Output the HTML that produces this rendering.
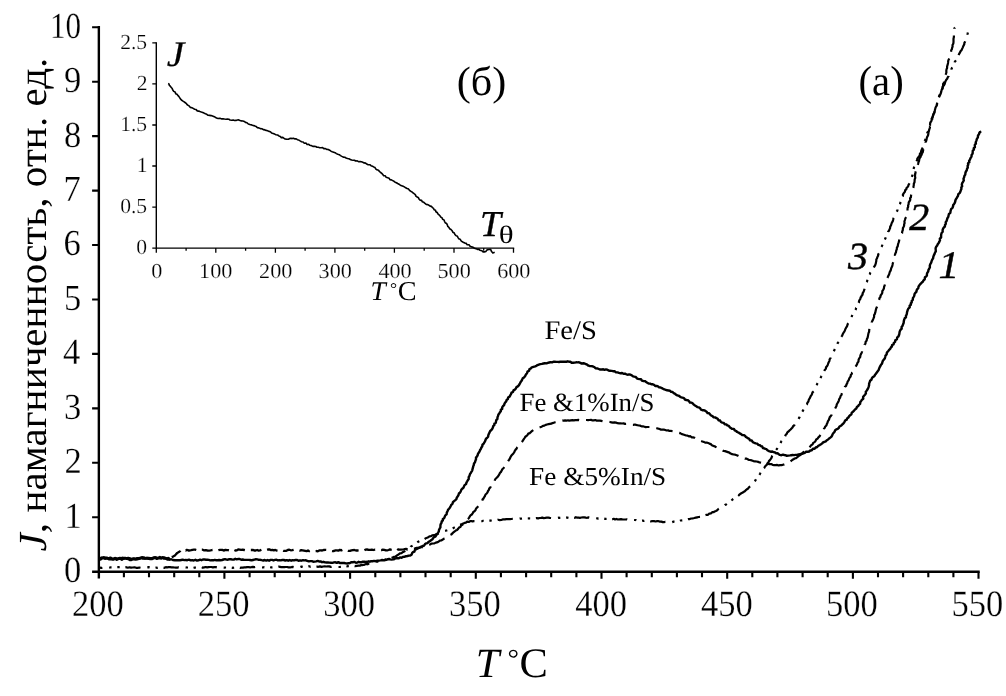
<!DOCTYPE html>
<html><head><meta charset="utf-8"><title>chart</title>
<style>
html,body{margin:0;padding:0;background:#fff;}
body{width:1006px;height:696px;overflow:hidden;font-family:"Liberation Serif",serif;}
svg{display:block;}
</style></head><body>
<svg width="1006" height="696" viewBox="0 0 1006 696">
<rect width="1006" height="696" fill="#fff"/>
<g stroke="#000" fill="none">
<path d="M98.85 26 V578.6" stroke-width="2.4"/>
<path d="M92.1 571.70 H979.7" stroke-width="2.5"/>
<path d="M92.1 517.2 H99 M92.1 462.8 H99 M92.1 408.4 H99 M92.1 353.9 H99 M92.1 299.5 H99 M92.1 245.0 H99 M92.1 190.6 H99 M92.1 136.1 H99 M92.1 81.7 H99 M92.1 27.2 H99" stroke-width="2.1"/>
<path d="M123.9 571.7 V577.2 M149.0 571.7 V577.2 M174.2 571.7 V577.2 M199.3 571.7 V577.2 M224.4 571.7 V578.8 M249.6 571.7 V577.2 M274.7 571.7 V577.2 M299.8 571.7 V577.2 M325.0 571.7 V577.2 M350.1 571.7 V578.8 M375.3 571.7 V577.2 M400.4 571.7 V577.2 M425.5 571.7 V577.2 M450.7 571.7 V577.2 M475.8 571.7 V578.8 M500.9 571.7 V577.2 M526.1 571.7 V577.2 M551.2 571.7 V577.2 M576.4 571.7 V577.2 M601.5 571.7 V578.8 M626.6 571.7 V577.2 M651.8 571.7 V577.2 M676.9 571.7 V577.2 M702.0 571.7 V577.2 M727.2 571.7 V578.8 M752.3 571.7 V577.2 M777.4 571.7 V577.2 M802.6 571.7 V577.2 M827.7 571.7 V577.2 M852.9 571.7 V578.8 M878.0 571.7 V577.2 M903.1 571.7 V577.2 M928.3 571.7 V577.2 M953.4 571.7 V577.2 M978.5 571.7 V578.8" stroke-width="2.1"/>
<path d="M156.3 42.2 V248.8 M155.6 248.1 H514.2" stroke-width="1.4"/>
<path d="M152.3 248.1 H156.3 M152.3 207.1 H156.3 M152.3 166.0 H156.3 M152.3 125.0 H156.3 M152.3 83.9 H156.3 M152.3 42.9 H156.3 M156.3 248.1 V252.8 M186.1 248.1 V250.8 M215.8 248.1 V252.8 M245.6 248.1 V250.8 M275.4 248.1 V252.8 M305.1 248.1 V250.8 M334.9 248.1 V252.8 M364.7 248.1 V250.8 M394.4 248.1 V252.8 M424.2 248.1 V250.8 M454.0 248.1 V252.8 M483.7 248.1 V250.8 M513.5 248.1 V252.8" stroke-width="1.3"/>
</g>
<g stroke="#000" fill="none" stroke-linejoin="round">
<path d="M99.0 557.5 L99.9 557.9 L100.9 558.1 L102.2 558.1 L103.7 557.4 L105.3 557.6 L106.9 558.0 L108.6 558.5 L110.3 557.6 L111.9 558.4 L113.5 558.6 L115.0 558.9 L116.5 558.5 L118.0 558.9 L119.4 558.5 L120.8 558.8 L122.3 557.8 L123.7 558.6 L125.2 558.1 L126.7 558.1 L128.3 557.9 L130.0 558.3 L131.3 558.9 L132.6 559.0 L134.0 558.5 L135.5 558.6 L137.0 558.3 L138.5 558.2 L140.0 558.0 L141.5 558.0 L143.0 558.6 L144.5 558.6 L146.0 558.3 L147.4 558.0 L148.7 558.0 L150.0 558.2 L151.7 558.3 L153.4 558.2 L155.0 558.1 L156.6 557.7 L158.1 558.1 L159.6 558.3 L161.0 558.3 L162.4 557.7 L163.7 558.5 L165.0 558.3 L166.6 558.4 L167.7 559.4 L168.8 559.3 L169.9 559.6 L171.2 559.2 L172.8 560.0 L175.0 560.3 L176.0 560.3 L177.2 560.2 L178.5 560.3 L179.8 560.3 L181.2 560.0 L182.7 559.7 L184.2 560.1 L185.8 560.0 L187.3 560.2 L189.0 559.7 L190.6 560.4 L192.2 560.1 L193.8 560.5 L195.4 559.7 L197.0 560.6 L198.5 560.3 L200.0 559.7 L201.5 560.2 L202.9 559.5 L204.4 559.4 L205.9 559.7 L207.3 559.6 L208.8 559.9 L210.3 560.4 L211.8 560.3 L213.3 560.3 L214.7 559.9 L216.2 560.2 L217.7 560.2 L219.1 560.0 L220.6 560.2 L222.1 560.0 L223.5 559.5 L225.0 559.1 L226.5 559.6 L227.9 559.7 L229.4 559.1 L230.9 559.3 L232.4 559.6 L233.8 559.6 L235.3 558.8 L236.8 559.3 L238.3 558.9 L239.7 559.0 L241.2 559.8 L242.7 559.5 L244.1 559.9 L245.6 559.9 L247.1 559.9 L248.5 559.9 L250.0 560.0 L251.5 560.4 L252.9 560.0 L254.4 559.6 L255.9 559.3 L257.4 559.4 L258.8 559.9 L260.3 559.8 L261.8 560.2 L263.2 560.5 L264.7 560.0 L266.2 560.6 L267.6 560.0 L269.1 560.7 L270.6 559.9 L272.1 559.9 L273.5 560.5 L275.0 559.9 L276.5 559.7 L277.9 560.4 L279.4 560.1 L280.9 560.4 L282.4 559.9 L283.8 560.0 L285.3 560.5 L286.8 560.1 L288.2 560.7 L289.7 560.0 L291.2 560.7 L292.7 560.1 L294.1 560.4 L295.6 559.9 L297.1 560.0 L298.5 560.8 L300.0 560.3 L301.5 560.7 L303.0 560.2 L304.4 560.4 L305.9 560.3 L307.3 560.9 L308.8 561.4 L310.3 561.1 L311.8 561.1 L313.2 561.7 L314.7 561.6 L316.2 561.4 L317.7 560.9 L319.1 561.5 L320.6 561.4 L322.0 562.2 L323.5 561.8 L325.0 562.4 L326.5 562.5 L327.9 562.4 L329.4 562.6 L330.9 562.7 L332.4 562.9 L333.9 562.4 L335.4 562.3 L336.9 562.9 L338.4 562.1 L339.9 563.0 L341.4 563.0 L342.8 563.0 L344.3 563.0 L345.7 563.4 L347.2 563.5 L348.6 563.2 L350.0 563.0 L351.5 562.1 L352.9 562.2 L354.4 561.9 L355.9 562.7 L357.4 562.6 L358.7 561.8 L360.2 562.3 L361.7 562.2 L363.0 561.6 L364.5 561.8 L365.9 562.0 L367.2 561.8 L368.6 561.3 L369.9 561.7 L371.2 561.1 L372.5 561.2 L374.1 560.9 L375.8 561.2 L377.4 560.7 L379.0 560.6 L380.6 560.4 L382.1 560.0 L383.7 560.4 L385.1 560.0 L386.5 559.8 L387.9 559.2 L389.1 559.0 L390.2 559.4 L391.3 559.6 L393.6 559.4 L394.8 558.7 L395.8 558.3 L397.6 558.2 L398.8 558.3 L400.0 557.4 L401.6 557.7 L403.0 556.9 L404.5 556.8 L406.0 556.2 L407.5 556.0 L408.8 555.6 L410.2 555.6 L411.6 554.7 L412.1 553.1 L413.0 552.2 L414.4 551.6 L414.9 550.1 L416.2 549.3 L417.4 548.7 L418.5 547.8 L419.8 547.3 L421.2 546.7 L422.5 546.0 L424.0 545.7 L424.9 544.3 L426.0 543.4 L427.6 543.1 L428.6 541.8 L430.0 541.2 L431.1 540.2 L432.4 539.3 L433.2 538.1 L434.1 537.0 L435.4 536.6 L436.3 535.1 L437.3 533.9 L438.1 532.7 L438.8 531.5 L439.0 530.0 L439.6 528.7 L440.4 527.4 L440.4 525.9 L440.6 524.3 L441.6 522.6 L441.7 521.4 L442.8 520.5 L442.8 519.0 L444.2 518.2 L444.7 516.8 L445.3 515.4 L446.6 514.4 L446.8 512.6 L447.5 511.2 L448.0 509.9 L449.0 508.8 L449.9 507.6 L450.6 506.3 L451.3 504.8 L452.5 503.8 L452.9 502.2 L454.1 501.1 L455.3 500.1 L456.4 499.1 L456.8 497.7 L457.7 496.3 L458.5 495.0 L458.9 493.5 L460.1 492.5 L460.8 491.2 L461.3 489.8 L462.2 488.7 L463.5 487.7 L464.0 486.3 L464.7 485.0 L466.1 484.1 L466.4 482.7 L467.1 481.5 L467.8 480.2 L468.7 479.0 L468.7 477.2 L469.5 475.8 L470.0 474.0 L470.8 473.0 L471.4 471.8 L472.2 470.6 L472.5 469.2 L472.9 467.9 L473.2 466.4 L473.8 465.0 L474.0 463.5 L475.0 462.2 L475.4 460.7 L476.0 459.3 L476.0 457.6 L477.0 456.4 L477.7 455.1 L478.0 453.7 L478.9 452.6 L479.6 451.3 L480.1 450.0 L480.9 448.8 L481.4 447.5 L482.3 446.3 L482.4 444.7 L483.6 443.8 L484.3 442.5 L485.0 441.3 L485.5 440.0 L486.0 438.7 L487.2 437.8 L488.1 436.8 L488.3 435.2 L488.9 433.8 L489.6 432.4 L490.2 431.0 L491.4 430.0 L492.3 428.8 L492.9 427.5 L493.2 426.1 L494.3 425.1 L494.4 423.6 L495.8 422.8 L496.0 421.4 L496.3 420.1 L497.4 418.9 L497.5 417.3 L498.1 415.9 L498.4 414.5 L499.3 413.4 L500.0 412.2 L500.8 411.2 L500.8 409.7 L502.2 408.9 L502.2 407.4 L503.0 406.2 L504.1 405.1 L504.5 403.7 L505.2 402.5 L506.2 401.4 L506.6 400.0 L507.9 399.1 L508.1 397.6 L509.4 396.8 L510.2 395.5 L510.9 394.2 L511.5 392.7 L513.0 392.0 L513.5 390.4 L514.9 389.6 L515.9 388.4 L516.5 387.1 L517.8 386.4 L519.0 385.1 L519.8 383.7 L520.5 382.2 L521.4 381.0 L522.2 379.7 L522.7 378.3 L524.0 377.5 L525.2 376.0 L525.9 374.5 L527.0 373.2 L527.5 371.6 L529.0 370.8 L529.5 369.1 L530.8 368.5 L531.8 367.3 L533.4 366.8 L535.2 366.3 L536.3 365.8 L537.5 365.1 L538.8 364.6 L540.3 364.1 L541.9 363.9 L543.4 363.5 L544.9 363.2 L546.5 363.4 L547.8 362.9 L549.2 362.5 L550.6 362.1 L552.1 362.4 L553.4 361.7 L554.8 361.7 L556.2 361.9 L557.6 361.9 L559.0 362.0 L560.4 361.6 L561.9 361.7 L563.3 361.7 L564.7 361.6 L566.2 361.8 L567.6 361.3 L569.0 361.7 L570.3 361.7 L571.7 362.8 L573.2 362.7 L574.7 362.6 L576.1 362.3 L577.6 362.4 L579.0 362.3 L580.4 362.9 L581.7 363.6 L583.2 363.3 L584.6 363.5 L585.9 364.1 L587.2 364.7 L588.5 365.7 L589.9 366.0 L591.2 366.1 L592.4 366.3 L593.5 366.7 L594.6 367.3 L595.8 368.4 L597.7 368.5 L599.8 369.5 L600.9 369.5 L602.1 369.5 L603.3 369.3 L604.5 369.8 L605.9 369.4 L607.3 369.7 L608.6 370.5 L610.0 370.8 L611.6 370.9 L613.0 371.2 L614.6 371.3 L616.0 372.4 L617.5 372.4 L619.0 372.9 L620.5 373.2 L622.1 373.0 L623.5 373.7 L625.0 373.6 L626.3 374.3 L627.6 374.7 L629.2 374.4 L630.6 374.7 L631.8 375.4 L633.0 376.3 L634.4 376.7 L635.8 377.0 L636.8 378.3 L638.1 378.8 L639.5 379.1 L641.0 379.3 L642.0 380.7 L643.4 381.0 L644.9 381.1 L646.1 381.9 L647.3 382.7 L648.6 383.5 L650.1 383.6 L651.3 384.2 L652.8 384.3 L654.1 384.8 L655.2 386.0 L656.7 386.0 L658.0 386.4 L659.1 387.4 L660.6 387.5 L661.9 388.1 L663.1 388.8 L664.4 389.4 L665.8 389.8 L667.1 390.3 L668.5 390.5 L670.0 390.7 L671.1 391.9 L672.6 392.0 L673.7 393.1 L675.0 393.8 L676.1 394.7 L677.3 395.4 L678.8 395.7 L679.9 396.6 L681.1 397.3 L682.5 397.7 L684.0 398.1 L684.9 399.5 L686.3 400.0 L687.9 400.2 L689.0 401.1 L689.9 402.5 L691.6 402.6 L692.8 403.5 L693.8 404.6 L695.0 405.5 L696.3 406.2 L697.4 407.1 L699.0 407.4 L700.2 408.2 L701.0 409.7 L702.4 410.2 L704.1 410.2 L705.4 410.9 L706.6 411.7 L707.5 413.1 L709.1 413.2 L710.0 414.4 L711.1 415.5 L712.5 416.1 L713.5 417.2 L715.1 417.4 L716.4 418.1 L717.7 418.8 L718.5 420.2 L720.1 420.5 L720.9 422.0 L722.3 422.6 L723.8 422.9 L724.7 424.2 L726.3 424.4 L727.3 425.4 L728.8 425.8 L729.7 427.2 L730.9 428.1 L732.1 428.9 L733.9 428.9 L734.7 430.4 L736.1 431.0 L737.2 432.0 L738.6 432.6 L739.8 433.4 L741.1 434.1 L742.2 435.0 L743.8 435.1 L745.0 435.8 L745.9 437.0 L747.1 437.6 L748.1 438.4 L749.3 438.9 L749.9 440.2 L751.7 440.5 L752.8 442.1 L754.2 442.8 L755.8 443.3 L757.3 443.7 L758.4 444.9 L759.9 445.2 L760.9 446.1 L762.2 446.5 L762.9 448.0 L764.2 448.4 L765.4 448.9 L766.5 449.2 L767.4 450.3 L769.0 451.1 L770.6 451.7 L772.4 451.5 L773.7 452.2 L775.1 452.5 L776.2 453.4 L777.6 453.3 L778.8 454.2 L779.9 454.9 L781.4 455.2 L783.0 454.7 L784.3 455.0 L785.5 455.2 L786.8 455.8 L788.3 455.6 L790.0 455.4 L791.3 455.2 L792.6 455.0 L794.1 455.1 L795.5 454.9 L797.1 454.9 L798.6 454.4 L800.2 454.1 L801.8 453.8 L803.5 453.3 L805.1 452.7 L806.1 451.7 L807.7 451.8 L809.1 451.5 L810.3 450.5 L811.8 450.2 L812.9 448.8 L814.6 448.8 L815.7 447.5 L817.2 447.0 L818.3 445.8 L819.7 445.1 L821.0 444.3 L822.2 443.4 L823.1 442.4 L824.4 441.8 L825.9 441.3 L826.8 440.2 L828.1 439.5 L829.1 438.5 L830.3 437.6 L831.5 436.6 L832.2 435.4 L832.8 433.9 L833.7 432.7 L834.6 431.7 L835.2 430.3 L836.3 429.4 L837.7 428.9 L838.8 427.9 L839.5 426.5 L840.9 425.8 L841.9 424.8 L843.0 423.9 L843.9 422.8 L844.6 421.6 L845.3 420.3 L846.7 419.7 L847.3 418.3 L848.4 417.5 L849.2 416.2 L850.2 415.2 L851.4 414.3 L851.8 412.6 L853.0 411.7 L854.1 410.6 L855.0 409.4 L856.3 408.5 L856.9 407.0 L858.2 406.1 L858.9 404.8 L860.1 403.8 L860.3 402.0 L861.2 400.9 L862.0 399.7 L863.3 398.8 L863.1 397.0 L864.0 395.8 L865.0 394.7 L865.9 393.4 L865.8 391.8 L866.7 390.6 L867.6 389.3 L868.2 388.0 L868.7 386.6 L869.1 385.2 L869.1 383.7 L869.6 382.3 L870.1 380.8 L871.4 379.8 L871.9 378.2 L872.8 377.1 L874.3 376.3 L875.0 374.9 L875.9 373.7 L876.8 372.5 L877.7 371.3 L878.6 370.1 L879.1 368.7 L879.6 367.3 L880.4 366.0 L881.0 364.7 L882.0 363.6 L882.4 362.1 L882.9 360.8 L883.8 359.6 L884.8 358.5 L885.2 357.0 L885.5 355.6 L886.6 354.5 L886.8 353.0 L887.6 351.7 L888.5 350.7 L889.4 349.6 L890.4 348.6 L890.9 347.4 L891.9 346.5 L892.1 345.0 L893.6 344.3 L893.9 342.8 L895.1 341.9 L895.3 340.2 L896.9 339.2 L897.2 337.4 L898.3 336.6 L898.9 335.4 L899.3 334.1 L899.5 332.6 L899.8 331.2 L900.5 329.9 L901.7 328.7 L901.6 327.0 L902.6 325.7 L903.1 324.2 L903.7 322.7 L903.8 321.1 L904.2 319.7 L904.7 318.3 L906.0 317.3 L905.9 315.8 L906.6 314.7 L906.9 313.5 L907.0 312.3 L907.6 310.3 L908.3 308.6 L909.7 307.4 L909.6 305.8 L910.9 304.8 L910.8 303.4 L911.7 302.4 L911.7 300.9 L912.8 299.8 L912.9 298.2 L913.6 297.0 L914.3 295.7 L914.5 294.2 L915.3 292.9 L916.4 291.8 L916.6 290.3 L917.3 289.1 L918.3 288.1 L918.5 286.7 L919.3 285.4 L920.1 284.3 L921.0 283.4 L921.8 282.5 L922.8 281.7 L923.5 280.4 L924.7 279.3 L924.9 277.3 L926.1 276.5 L926.9 275.5 L926.9 274.1 L927.3 272.8 L928.2 271.6 L928.4 270.1 L929.2 268.7 L929.9 267.3 L929.8 265.6 L930.3 264.1 L931.2 262.7 L931.6 261.1 L932.2 259.7 L933.1 258.3 L933.3 256.8 L933.8 255.4 L934.5 254.1 L935.0 252.7 L935.8 251.4 L935.7 249.8 L935.6 248.2 L936.2 246.8 L937.2 245.6 L937.7 244.2 L938.7 242.9 L939.4 241.6 L940.0 240.2 L939.8 238.6 L941.1 237.5 L941.1 236.0 L941.2 234.5 L941.6 233.0 L942.7 231.8 L942.6 230.2 L943.0 228.8 L943.7 227.6 L944.9 226.5 L945.0 225.0 L945.8 223.8 L945.7 222.2 L946.6 221.0 L947.0 219.6 L947.4 218.2 L948.3 216.9 L948.6 215.3 L949.0 213.8 L950.3 212.9 L950.5 211.5 L950.8 210.1 L951.3 208.8 L952.5 207.8 L953.0 206.5 L953.2 205.0 L954.1 203.9 L954.9 202.6 L955.3 201.2 L955.6 199.7 L956.5 198.4 L957.2 197.1 L958.0 195.8 L958.3 194.2 L959.6 193.1 L960.4 191.7 L960.8 190.2 L961.4 188.9 L961.3 187.4 L962.2 186.2 L961.8 184.6 L962.2 183.2 L963.0 181.9 L963.8 180.5 L963.5 178.8 L964.1 177.4 L964.4 175.9 L965.3 174.5 L965.4 173.0 L965.9 171.5 L966.8 170.2 L967.0 168.8 L967.8 167.5 L967.6 165.9 L968.3 164.7 L968.0 163.2 L969.4 162.3 L969.1 161.0 L969.8 159.9 L970.5 158.2 L971.5 156.7 L971.6 155.0 L972.6 153.6 L972.7 152.1 L972.8 150.6 L973.9 149.6 L973.7 148.1 L974.9 147.2 L974.8 145.8 L974.9 144.6 L975.9 143.7 L975.7 142.4 L976.4 140.6 L976.9 138.8 L977.9 137.3 L978.0 135.5 L979.0 134.2 L979.3 132.9 L980.3 132.1 L979.8 130.9" stroke-width="2.4"/>
<path d="M99.0 558.8 L99.8 558.9 L100.6 559.3 L101.6 557.8 L102.6 558.0 L103.8 557.8 L105.0 558.5 L106.3 558.3 L107.6 558.3 L109.0 559.1 L110.5 558.8 L112.0 559.2 L113.5 559.4 L115.1 558.3 L116.8 559.5 L118.4 558.7 L120.1 558.1 L121.7 559.5 L123.4 558.3 L125.1 558.1 L126.7 558.6 L128.4 558.7 L130.0 559.8 L131.3 559.7 L132.7 559.0 L134.1 559.1 L135.6 559.4 L137.1 559.1 L138.7 558.7 L140.3 558.3 L141.9 557.5 L143.6 557.7 L145.3 558.4 L146.9 558.3 L148.6 558.6 L150.3 558.8 L151.9 558.9 L153.6 557.6 L155.2 557.4 L156.8 558.6 L158.3 558.0 L159.8 557.3 L161.2 558.1 L162.6 557.5 L163.9 557.6 L165.1 558.1 L166.3 558.6 L167.4 559.1 L168.4 558.2 L169.2 559.2 L170.0 558.8" stroke-width="2.9"/>
<path d="M171.7 557.1 L173.1 556.6 L174.9 555.6 L176.1 554.1 L177.3 552.9 L178.8 552.1 L180.1 551.1 L180.4 550.3 L181.1 550.4 L185.0 549.7 L185.8 550.4 L186.8 549.9 L187.8 550.1 L188.9 550.7 L190.0 550.4 L191.2 550.2 L192.5 549.9 L193.8 549.7 L195.2 549.7 L196.6 550.1 L198.1 549.3 L199.6 550.1 L201.1 549.7 L202.6 549.7 L204.2 550.4 L205.8 550.2 L207.4 550.5 L209.0 550.6 L210.6 550.4 L212.2 550.0 L213.8 549.8 L215.4 550.4 L216.9 550.6 L218.5 550.1 L220.0 549.9 L221.3 549.9 L222.7 550.0 L224.1 550.6 L225.5 549.8 L226.8 550.1 L228.2 550.1 L229.7 550.5 L231.1 550.8 L232.5 549.7 L233.9 549.7 L235.4 550.5 L236.8 550.4 L238.2 549.4 L239.7 549.6 L241.1 549.8 L242.6 549.7 L244.1 550.0 L245.5 550.3 L247.0 550.2 L248.4 550.0 L249.9 550.0 L251.3 550.0 L252.8 549.9 L254.2 550.5 L255.7 550.5 L257.1 550.0 L258.6 550.6 L260.0 550.4 L261.4 549.8 L262.8 549.9 L264.2 549.5 L265.6 550.2 L267.0 549.9 L268.4 549.4 L269.8 549.5 L271.1 550.2 L272.5 549.9 L273.9 550.3 L275.3 549.9 L276.6 550.6 L278.0 550.8 L279.4 550.1 L280.8 550.8 L282.2 550.4 L283.6 550.9 L285.0 550.9 L286.4 550.8 L287.8 550.0 L289.3 549.7 L290.8 550.3 L292.3 550.2 L293.8 549.8 L295.3 549.9 L296.8 550.4 L298.4 550.0 L300.0 550.6 L301.3 550.2 L302.6 550.3 L303.9 550.6 L305.3 550.9 L306.6 551.2 L308.0 550.4 L309.4 551.2 L310.7 550.6 L312.1 550.7 L313.6 551.1 L315.0 551.1 L316.4 551.0 L317.8 551.3 L319.3 550.4 L320.7 550.3 L322.2 550.5 L323.6 550.0 L325.1 549.8 L326.6 549.9 L328.0 550.6 L329.5 550.8 L331.0 550.8 L332.5 551.1 L334.0 551.0 L335.4 550.4 L336.9 550.3 L338.4 550.7 L339.8 549.8 L341.3 550.4 L342.8 549.7 L344.2 549.7 L345.7 550.3 L347.1 549.9 L348.6 550.9 L350.0 550.9 L351.4 550.4 L352.9 550.1 L354.4 550.0 L355.9 550.5 L357.5 550.5 L359.1 550.4 L360.6 550.8 L362.2 550.5 L363.8 550.6 L365.4 549.7 L367.1 549.5 L368.7 549.8 L370.3 549.8 L371.9 549.6 L373.5 550.0 L375.1 549.6 L376.7 549.7 L378.3 549.9 L379.8 550.1 L381.4 550.2 L382.9 549.7 L384.4 549.8 L385.8 550.3 L387.2 550.3 L388.6 550.0 L390.0 549.4 L391.3 549.8 L392.6 550.0 L393.8 549.6 L394.9 549.3 L396.1 550.3 L397.1 550.2 L398.2 549.3 L399.1 549.6 L400.0 549.7 L403.6 549.3 L406.0 548.9 L407.6 549.6 L408.5 549.6 L409.0 549.1 L409.3 548.7 L410.0 549.0" stroke-width="2.3" stroke-dasharray="11 6"/>
<path d="M413.9 548.5 L415.1 548.4 L416.9 547.8 L418.8 548.0 L420.0 547.5 L420.0 547.5 L420.9 547.2 L422.3 547.2 L423.7 546.3 L425.3 545.9 L427.0 545.2 L428.6 544.9 L430.0 544.5 L431.5 543.6 L433.0 543.5 L434.4 543.4 L435.8 542.6 L437.8 542.1 L438.8 541.5 L439.8 540.7 L441.2 540.5 L442.4 539.8 L443.6 538.9 L445.1 538.5 L446.5 537.9 L447.7 536.9 L449.0 536.0 L450.1 535.0 L451.4 534.4 L452.4 533.4 L453.4 532.3 L454.6 531.5 L455.7 530.6 L457.1 529.9 L458.1 528.9 L459.0 527.6 L460.4 527.0 L461.1 525.6 L462.4 524.9 L463.3 523.8 L464.4 523.0 L465.2 521.8 L465.9 520.7 L467.0 519.9 L468.1 519.0 L469.0 517.9 L469.7 516.6 L470.5 515.4 L471.8 514.5 L472.8 513.2 L473.3 512.0 L474.5 511.3 L475.4 510.3 L475.9 508.9 L476.8 507.8 L477.8 506.8 L478.8 505.7 L479.3 504.2 L480.2 503.1 L481.1 501.9 L482.2 500.9 L482.6 499.4 L483.6 498.4 L484.2 497.1 L485.0 496.0 L485.5 494.5 L486.7 493.5 L487.5 492.3 L488.0 491.0 L488.9 489.8 L489.3 488.4 L490.4 487.5 L490.9 486.1 L491.8 485.0 L492.7 483.8 L493.2 482.5 L494.5 481.5 L494.9 480.0 L495.6 478.8 L496.7 477.8 L497.7 476.8 L498.5 475.6 L499.3 474.4 L499.9 473.0 L501.0 471.9 L501.7 470.6 L502.3 469.2 L503.4 468.2 L504.4 467.1 L505.0 465.8 L505.9 464.7 L506.5 463.4 L507.3 462.3 L508.2 461.0 L509.2 459.7 L510.0 458.4 L510.6 456.9 L511.4 455.6 L512.4 454.5 L513.4 453.4 L514.3 452.2 L514.8 450.8 L515.6 449.6 L516.6 448.6 L517.3 447.3 L518.5 446.3 L519.7 445.3 L520.2 443.8 L521.3 442.8 L522.2 441.6 L523.0 440.4 L523.8 439.2 L524.6 438.0 L525.3 436.7 L526.5 436.0 L527.5 435.0 L528.3 433.6 L529.9 433.1 L531.0 431.9 L532.2 430.9 L533.5 430.0 L535.1 429.7 L536.4 429.0 L537.5 428.0 L538.9 427.6 L540.1 427.2 L541.7 426.7 L543.0 425.8 L544.4 425.6 L545.7 424.9 L547.0 424.5 L548.5 424.2 L550.0 423.9 L551.3 423.7 L552.5 423.1 L553.8 422.7 L555.1 422.3 L556.5 421.9 L557.9 421.6 L559.4 421.4 L560.9 421.2 L562.5 420.6 L563.8 420.6 L565.1 420.4 L566.5 420.7 L567.9 420.3 L569.3 420.6 L570.8 420.3 L572.3 420.1 L573.8 420.4 L575.3 420.1 L576.9 420.1 L578.4 419.9 L580.0 420.3 L581.3 420.5 L582.7 420.0 L584.0 420.0 L585.4 420.0 L586.8 420.0 L588.1 420.2 L589.5 420.0 L591.0 419.8 L592.4 420.4 L593.9 420.3 L595.4 420.0 L596.8 420.7 L598.4 420.7 L600.0 420.6 L601.3 420.9 L602.7 421.3 L604.1 421.1 L605.5 421.3 L607.0 421.4 L608.4 421.8 L609.9 422.0 L611.4 422.3 L612.9 422.6 L614.5 422.3 L616.0 422.6 L617.4 423.2 L619.0 423.3 L620.5 423.3 L622.0 423.5 L623.5 423.4 L625.0 423.9 L626.4 423.8 L627.8 423.8 L629.2 423.8 L630.6 424.0 L631.9 424.7 L633.3 424.8 L634.8 424.5 L636.2 424.9 L637.5 425.2 L638.9 425.5 L640.3 425.7 L641.6 426.4 L643.0 426.3 L644.4 426.7 L645.7 427.1 L647.2 427.0 L648.6 427.0 L650.0 427.0 L651.4 427.2 L652.8 427.6 L654.2 428.0 L655.6 427.9 L657.0 428.3 L658.3 428.7 L659.7 429.0 L661.0 429.7 L662.5 429.7 L663.9 429.7 L665.3 430.0 L666.6 430.5 L668.1 430.3 L669.4 431.0 L670.9 430.8 L672.3 431.2 L673.7 431.5 L675.0 432.3 L676.5 432.2 L677.9 432.6 L679.3 432.9 L680.6 433.4 L681.9 434.1 L683.3 434.5 L684.7 435.0 L686.1 435.5 L687.5 435.6 L688.8 436.3 L690.4 436.2 L691.6 437.3 L693.1 437.4 L694.5 437.8 L695.8 438.6 L697.1 439.3 L698.6 439.5 L700.0 439.9 L701.1 441.0 L702.4 441.5 L703.8 441.9 L705.1 442.6 L706.7 442.5 L708.1 443.0 L709.4 443.6 L710.8 444.1 L711.9 445.2 L713.2 445.9 L714.6 446.3 L715.8 447.0 L717.1 447.7 L718.3 448.7 L719.6 449.3 L720.9 450.0 L722.4 450.1 L723.6 451.0 L725.0 451.1 L726.5 451.6 L727.9 452.1 L729.4 452.6 L730.6 453.6 L732.1 454.2 L733.6 454.5 L735.2 454.7 L736.7 455.2 L738.1 455.8 L739.4 456.5 L740.7 457.3 L742.3 457.4 L743.5 458.2 L744.9 458.7 L746.3 458.6 L747.6 459.2 L748.7 459.8 L750.0 460.0 L751.8 460.4 L753.4 461.1 L755.0 461.3 L756.6 461.5 L758.1 461.8 L759.5 462.5 L760.9 462.7 L762.3 463.0 L763.7 463.0 L765.0 463.0 L766.3 463.2 L767.5 463.6 L769.3 464.1 L771.1 464.0 L772.6 464.8 L774.2 465.1 L775.7 465.2 L777.2 464.9 L778.6 465.5 L780.0 465.1 L781.6 465.1 L783.0 464.7 L784.3 464.4 L785.6 463.7 L787.1 463.4 L788.6 462.6 L790.2 461.7 L791.2 460.8 L792.2 460.0 L793.4 459.3 L794.6 458.5 L796.1 458.1 L797.3 457.2 L798.5 456.2 L799.8 455.3 L801.2 454.4 L802.3 453.2 L803.5 452.0 L805.0 451.2 L805.9 450.2 L807.1 449.5 L808.0 448.3 L809.4 447.7 L810.3 446.4 L811.2 445.2 L812.6 444.4 L813.2 442.9 L814.6 442.1 L815.6 440.9 L816.2 439.5 L817.6 438.6 L818.4 437.4 L819.5 436.4 L820.2 435.2 L821.0 433.9 L822.2 432.9 L822.4 431.4 L823.6 430.4 L823.9 428.9 L824.7 427.8 L825.3 426.5 L826.4 425.5 L826.8 424.1 L827.5 422.8 L827.8 421.4 L828.7 420.2 L829.3 418.8 L829.7 417.3 L830.6 416.2 L831.5 415.1 L831.9 413.6 L832.9 412.5 L833.4 411.0 L834.1 409.7 L835.1 408.6 L835.8 407.2 L836.5 405.9 L836.8 404.3 L837.6 403.0 L838.4 401.7 L838.9 400.3 L839.3 398.8 L840.2 397.6 L840.5 396.1 L841.5 394.9 L841.8 393.5 L842.3 392.1 L843.3 391.0 L843.6 389.5 L844.6 388.4 L844.9 386.9 L846.1 385.9 L846.5 384.4 L847.3 383.1 L847.6 381.6 L848.6 380.3 L849.1 378.9 L849.8 377.4 L850.7 376.4 L850.8 374.9 L851.7 373.9 L852.1 372.5 L853.2 371.6 L853.9 370.4 L854.0 368.9 L854.9 367.8 L855.6 366.6 L856.4 365.4 L857.1 364.1 L857.5 362.7 L858.5 361.5 L858.6 359.8 L859.2 358.4 L860.2 357.1 L860.4 355.4 L861.1 353.8 L861.7 352.7 L862.1 351.5 L862.5 350.2 L863.5 349.0 L863.6 347.6 L864.3 346.3 L864.5 344.8 L865.5 343.5 L865.6 342.0 L866.6 340.7 L866.9 339.1 L867.6 337.7 L867.9 336.2 L868.2 334.6 L868.5 333.1 L869.1 331.7 L869.2 330.2 L869.4 328.7 L870.4 327.5 L870.8 326.2 L871.2 324.8 L871.6 323.6 L871.7 322.3 L872.2 321.1 L872.8 320.1 L873.5 318.4 L874.1 316.8 L874.1 315.1 L874.9 313.8 L875.3 312.4 L875.6 311.0 L875.9 309.7 L876.2 308.5 L876.8 307.3 L877.2 306.2 L877.5 304.9 L877.9 303.7 L878.4 302.4 L878.9 301.1 L879.2 299.7 L879.4 298.2 L880.4 297.0 L880.6 295.5 L881.6 294.2 L882.3 292.8 L882.3 291.2 L883.2 289.8 L883.9 288.4 L884.1 286.8 L884.7 285.4 L885.0 283.9 L885.3 282.5 L885.9 281.2 L886.4 279.9 L886.9 278.7 L887.6 277.6 L888.3 275.9 L889.1 274.5 L889.5 273.0 L889.9 271.6 L890.7 270.5 L891.0 269.1 L891.4 267.8 L892.1 266.5 L892.5 264.9 L892.8 263.2 L893.4 262.1 L893.6 260.7 L894.4 259.5 L894.3 258.0 L895.2 256.7 L894.9 255.0 L895.3 253.6 L896.0 252.2 L896.2 250.6 L896.8 249.2 L896.9 247.7 L897.7 246.4 L897.9 245.0 L898.2 243.7 L898.6 242.6 L899.1 240.9 L899.4 239.4 L899.9 238.0 L899.9 236.6 L900.5 235.4 L901.3 234.3 L902.1 233.1 L902.2 231.6 L902.8 230.0 L902.9 228.1 L903.5 227.0 L904.1 225.8 L904.1 224.4 L904.6 223.1 L904.4 221.5 L904.9 220.0 L905.3 218.5 L906.2 217.1 L906.1 215.5 L907.0 214.0 L906.9 212.4 L907.5 211.0 L907.5 209.5 L907.6 208.0 L908.2 206.8 L908.1 205.4 L908.6 204.3 L908.7 202.4 L909.7 201.0 L910.3 199.7 L910.1 198.3 L910.9 197.3 L911.0 196.0 L911.2 194.7 L911.7 193.4 L912.3 191.8 L912.9 190.0 L913.2 188.9 L913.4 187.7 L913.5 186.4 L913.8 185.1 L913.8 183.7 L914.5 182.3 L914.6 180.9 L914.7 179.4 L915.3 177.9 L915.0 176.3 L915.1 174.8 L915.4 173.3 L915.6 171.8 L916.2 170.4 L916.7 169.0 L916.7 167.6 L917.3 166.3 L917.7 165.1 L918.2 163.6 L918.5 162.2 L919.1 160.9 L919.2 159.5 L919.7 158.2 L920.5 157.1 L920.9 155.8 L921.7 154.7 L921.9 153.3 L922.8 152.2 L923.0 150.8 L923.4 149.4 L924.2 148.1 L924.6 146.6 L925.0 145.0 L925.6 143.8 L925.5 142.4 L926.1 141.1 L926.5 139.8 L926.7 138.3 L927.2 136.9 L928.0 135.5 L928.3 134.0 L928.5 132.4 L928.9 130.9 L929.3 129.4 L929.8 128.0 L930.0 126.5 L930.7 125.1 L930.9 123.7 L931.2 122.3 L931.7 121.1 L932.3 119.9 L932.1 118.6 L932.4 117.5 L933.0 115.7 L933.5 114.1 L934.4 112.8 L934.7 111.4 L934.9 110.1 L935.2 108.9 L935.5 107.7 L936.0 106.6 L936.8 105.5 L937.1 104.0 L937.2 102.4 L937.8 101.2 L937.8 99.8 L938.5 98.5 L938.9 97.1 L939.3 95.7 L940.3 94.5 L940.9 93.0 L941.3 91.6 L941.6 90.0 L942.3 88.6 L942.6 87.1 L943.1 85.6 L943.1 84.0 L944.1 82.6 L943.8 81.1 L944.3 79.7 L944.7 78.3 L944.9 76.8 L945.2 75.3 L945.9 73.9 L946.4 72.5 L946.3 70.9 L946.5 69.4 L947.1 68.0 L947.1 66.5 L947.5 65.1 L947.9 63.8 L948.1 62.4 L948.2 61.1 L948.5 59.9 L949.3 58.4 L950.0 57.0 L950.4 55.6 L950.2 54.1 L950.8 52.9 L951.1 51.6 L951.2 50.3 L951.9 49.1 L952.1 47.8 L952.6 46.5 L952.5 45.0 L953.3 43.7 L953.5 42.1 L953.5 40.4 L953.5 38.7 L953.9 37.0 L953.9 35.3 L954.4 33.7 L954.5 32.1 L954.5 30.7 L954.9 29.5 L954.4 28.3 L955.0 27.5" stroke-width="2.2" stroke-dasharray="17 7" stroke-dashoffset="8"/>
<path d="M99.0 567.5 L99.7 567.4 L100.6 567.8 L101.5 567.8 L102.4 567.2 L103.5 567.3 L104.6 567.3 L105.7 567.1 L106.9 567.0 L108.2 567.2 L109.5 567.5 L110.9 567.4 L112.3 567.4 L113.7 567.1 L115.2 567.1 L116.7 567.2 L118.2 567.2 L119.8 567.1 L121.4 567.5 L123.0 567.0 L124.6 567.6 L126.2 567.2 L127.9 567.7 L129.5 567.3 L131.2 567.6 L132.8 567.5 L134.5 567.3 L136.1 567.8 L137.8 567.8 L139.4 567.5 L141.0 567.8 L142.5 567.6 L144.1 567.9 L145.6 567.2 L147.1 567.4 L148.6 567.2 L150.0 567.5 L151.4 567.6 L152.9 567.7 L154.3 567.5 L155.8 567.5 L157.2 567.8 L158.6 567.3 L160.1 567.4 L161.5 567.8 L162.9 567.5 L164.4 567.8 L165.8 567.2 L167.2 567.4 L168.6 567.2 L170.1 567.1 L171.5 567.3 L172.9 567.3 L174.3 567.5 L175.8 567.6 L177.2 567.6 L178.6 567.4 L180.0 567.7 L181.5 567.5 L182.9 567.7 L184.3 567.1 L185.7 567.4 L187.2 567.5 L188.6 567.5 L190.0 568.0 L191.4 567.6 L192.9 568.1 L194.3 567.7 L195.7 567.6 L197.1 567.7 L198.6 567.6 L200.0 567.3 L201.4 567.2 L202.9 567.8 L204.3 567.3 L205.7 567.0 L207.1 567.4 L208.6 567.2 L210.0 567.0 L211.4 567.0 L212.9 567.4 L214.3 567.1 L215.7 567.1 L217.1 567.5 L218.6 567.1 L220.0 567.1 L221.4 567.0 L222.9 567.5 L224.3 567.6 L225.7 567.5 L227.1 567.5 L228.6 567.4 L230.0 567.8 L231.4 567.5 L232.9 567.8 L234.3 567.5 L235.7 567.8 L237.1 567.3 L238.6 567.4 L240.0 567.8 L241.4 567.6 L242.9 567.6 L244.3 567.4 L245.7 567.4 L247.1 567.1 L248.6 567.0 L250.0 567.3 L251.4 567.2 L252.9 566.9 L254.3 567.2 L255.7 566.9 L257.1 567.4 L258.6 567.2 L260.0 567.5 L261.4 567.4 L262.9 567.5 L264.3 567.2 L265.7 567.4 L267.1 567.5 L268.6 567.1 L270.0 567.2 L271.4 567.4 L272.9 567.3 L274.3 567.2 L275.7 567.2 L277.1 567.0 L278.6 566.7 L280.0 566.9 L281.4 567.2 L282.9 567.0 L284.3 567.2 L285.7 567.0 L287.1 567.0 L288.6 567.4 L290.0 567.3 L291.4 567.2 L292.9 566.9 L294.3 567.2 L295.7 566.8 L297.1 567.4 L298.6 567.3 L300.0 567.1 L301.4 566.6 L302.9 566.9 L304.4 566.4 L305.9 566.8 L307.4 566.6 L309.0 566.2 L310.5 566.8 L312.1 566.5 L313.7 566.8 L315.2 566.7 L316.8 566.6 L318.4 566.8 L320.0 566.4 L321.6 566.9 L323.1 566.5 L324.7 566.3 L326.3 566.5 L327.8 566.4 L329.3 566.4 L330.9 566.9 L332.3 566.5 L333.8 566.5 L335.3 566.6 L336.7 566.5 L338.1 567.0 L339.5 567.0 L340.8 566.9 L342.1 566.9 L343.3 566.4 L344.6 566.5 L345.7 566.0 L346.9 566.3 L348.0 566.2 L349.0 566.1 L350.0 565.8 L352.6 565.6 L354.9 566.2 L356.8 565.8 L358.5 565.7 L359.9 565.7 L361.1 565.0 L362.3 565.1 L363.3 564.8 L364.3 564.8 L365.3 564.3 L366.3 563.9 L367.6 564.3 L369.1 563.5 L370.7 563.6 L372.1 563.3 L373.4 562.7 L374.8 562.6 L376.0 562.1 L377.3 561.6 L378.6 561.2 L380.1 561.4 L381.4 560.6 L382.9 560.4 L384.4 560.0 L385.8 559.4 L387.4 559.5 L388.8 559.2 L390.2 558.9 L391.4 558.1 L392.5 557.5 L394.1 556.9 L395.5 556.5 L396.7 555.8 L397.7 554.9 L398.9 554.3 L399.9 553.4 L401.5 553.2 L402.5 552.3 L403.7 551.7 L405.1 551.1 L406.2 549.9 L407.8 549.3 L408.7 548.4 L409.9 547.9 L410.7 546.6 L412.0 545.9 L413.3 545.3 L414.5 544.3 L415.6 543.4 L417.0 542.7 L418.1 541.7 L419.4 541.1 L420.4 540.3 L421.9 540.2 L423.0 539.3 L424.5 539.1 L425.7 538.3 L427.0 537.8 L428.3 537.2 L429.5 536.3 L431.1 536.2 L432.2 535.3 L433.7 535.2 L435.1 534.7 L436.5 534.1 L438.0 533.7 L439.3 532.9 L440.8 532.6 L442.2 532.3 L443.3 531.3 L444.5 530.8 L445.7 530.7 L447.7 530.1 L449.3 529.3 L450.8 528.8 L452.4 528.7 L453.6 527.9 L454.9 527.2 L456.4 526.6 L458.0 526.1 L459.2 525.1 L460.6 524.6 L462.0 524.0 L463.3 523.4 L464.5 522.9 L465.9 522.6 L467.1 521.6 L469.1 521.9 L470.1 521.2 L471.3 521.0 L472.5 521.4 L473.8 521.2 L475.2 521.2 L476.7 520.9 L478.3 521.3 L480.1 521.0 L482.0 521.2 L483.1 520.8 L484.3 521.0 L485.5 520.9 L486.7 520.6 L488.0 520.6 L489.2 520.3 L490.6 520.6 L492.0 520.5 L493.4 520.1 L494.9 520.2 L496.4 520.2 L498.0 519.7 L499.7 520.1 L501.4 520.0 L503.1 519.3 L505.0 519.3 L506.2 519.1 L507.4 519.2 L508.7 519.0 L510.0 519.2 L511.3 519.0 L512.7 518.9 L514.1 519.0 L515.5 518.9 L516.9 519.2 L518.4 519.1 L519.8 518.6 L521.3 518.6 L522.8 518.4 L524.4 518.4 L525.9 518.2 L527.4 518.5 L529.0 518.4 L530.5 518.5 L532.0 518.0 L533.5 517.9 L535.1 518.4 L536.6 518.1 L538.1 518.4 L539.6 518.0 L541.0 517.9 L542.5 517.6 L543.9 518.2 L545.4 517.8 L546.8 517.7 L548.3 517.7 L549.8 517.9 L551.2 518.0 L552.7 517.8 L554.1 517.6 L555.6 517.8 L557.0 518.1 L558.5 517.7 L560.0 517.8 L561.4 517.7 L562.9 517.6 L564.3 517.7 L565.8 517.4 L567.2 517.6 L568.6 517.9 L570.1 517.3 L571.5 517.5 L572.9 517.9 L574.4 517.9 L575.8 517.2 L577.2 517.6 L578.6 517.6 L580.0 517.8 L581.4 517.5 L582.9 517.3 L584.3 517.4 L585.8 517.7 L587.2 517.8 L588.6 517.4 L590.1 517.8 L591.5 517.9 L592.9 518.0 L594.3 517.8 L595.7 518.2 L597.1 518.3 L598.5 518.6 L599.9 518.5 L601.3 518.4 L602.7 518.8 L604.1 518.6 L605.4 518.9 L606.8 518.7 L608.2 518.9 L609.6 519.2 L610.9 518.7 L612.3 519.2 L613.7 518.8 L615.0 519.5 L616.5 518.9 L617.9 519.5 L619.4 519.3 L620.9 519.2 L622.4 519.4 L623.9 519.5 L625.4 519.5 L626.9 519.4 L628.4 519.8 L629.8 519.7 L631.3 520.3 L632.8 519.9 L634.2 520.0 L635.6 520.0 L637.0 520.6 L638.4 520.3 L639.8 520.6 L641.1 520.8 L642.5 520.6 L643.8 520.9 L645.0 520.6 L646.3 520.6 L647.5 520.6 L649.2 521.0 L650.8 521.4 L652.5 521.0 L654.1 521.2 L655.6 521.5 L657.1 521.2 L658.6 521.2 L660.0 521.6 L661.4 521.6 L662.7 522.1 L664.0 522.2 L665.3 521.8 L666.5 522.1 L667.7 522.0 L668.9 521.7 L670.0 521.9 L672.0 522.2 L673.7 521.6 L675.2 521.6 L676.6 521.5 L677.8 520.9 L679.3 521.3 L680.7 520.5 L682.5 520.3 L683.8 520.4 L685.1 519.7 L686.6 519.7 L688.1 519.2 L689.7 519.1 L691.2 518.5 L692.7 518.3 L694.3 518.0 L695.8 517.6 L697.2 517.3 L698.6 517.0 L700.0 516.9" stroke-width="2.2" stroke-dasharray="15.5 7 2.4 5.8 2.4 5.9" stroke-dashoffset="12"/>
<path d="M700.0 516.9 L701.5 516.2 L703.0 516.3 L704.2 515.7 L705.4 515.2 L706.6 514.8 L708.0 514.8 L709.1 513.7 L710.9 513.4 L712.4 512.2 L713.7 512.2 L714.7 511.4 L715.9 510.9 L717.2 510.3 L718.2 509.1 L719.5 508.3 L721.0 507.9 L722.3 507.0 L723.7 506.2 L724.8 505.1 L726.2 504.4 L727.4 503.3 L728.8 502.5 L729.9 501.5 L731.2 500.7 L732.3 499.7 L733.6 498.8 L735.0 498.2 L736.0 497.0 L737.5 496.5 L738.6 495.5 L739.7 494.4 L740.9 493.5 L742.3 492.8 L743.5 492.0 L744.8 491.3 L745.8 490.2 L746.9 489.3 L748.2 488.5 L749.0 487.2 L750.3 486.6 L751.3 485.4 L752.4 484.3 L753.4 483.1 L754.0 481.7 L755.2 480.7 L756.0 479.4 L756.6 478.1 L758.0 477.2 L758.6 475.8 L759.5 474.7 L760.2 473.4 L760.7 472.1 L762.0 471.3 L762.4 469.9 L763.3 468.7 L764.4 467.7 L765.0 466.5 L766.0 465.5 L766.9 464.6 L767.4 463.3 L768.5 462.4 L768.9 461.1 L769.9 460.1 L770.8 458.9 L771.6 457.6 L772.1 456.0 L772.9 455.0 L774.1 454.1 L774.5 452.7 L775.2 451.5 L775.9 450.2 L776.9 449.0 L777.7 447.7 L778.5 446.3 L779.1 444.9 L780.1 443.7 L780.9 442.4 L781.5 441.0 L782.8 440.0 L783.6 438.7 L784.3 437.4 L785.1 436.3 L785.7 434.8 L786.8 433.8 L787.3 432.3 L788.5 431.5 L789.5 430.4 L790.6 429.5 L791.5 428.5 L792.5 427.5 L793.1 426.2 L794.3 425.3 L795.0 423.9 L795.7 422.6 L796.6 421.3 L797.7 420.1 L798.4 419.0 L799.1 417.9 L799.7 416.7 L800.1 415.3 L800.8 414.1 L801.8 413.0 L802.3 411.7 L803.1 410.4 L803.6 409.1 L804.4 407.8 L805.5 406.7 L805.9 405.3 L807.0 404.2 L807.4 402.7 L808.4 401.6 L808.7 400.1 L809.4 398.8 L810.1 397.6 L810.6 396.2 L811.5 395.1 L812.1 393.8 L812.5 392.3 L813.7 391.3 L814.0 389.9 L814.5 388.5 L815.8 387.6 L816.1 386.1 L816.8 384.8 L817.4 383.5 L818.1 382.3 L819.2 381.3 L819.8 380.0 L820.4 378.7 L820.9 377.3 L821.5 376.1 L822.6 375.0 L822.9 373.5 L823.9 372.4 L824.5 371.2 L824.8 369.7 L825.9 368.7 L826.0 367.2 L827.1 366.1 L827.7 364.9 L828.2 363.5 L828.7 362.2 L829.4 361.0 L829.6 359.4 L830.5 358.2 L830.9 356.8 L831.6 355.4 L832.2 353.9 L833.2 352.6 L833.6 351.4 L834.3 350.3 L834.8 349.1 L835.4 347.9 L836.2 346.8 L836.8 345.5 L837.3 344.2 L837.8 342.9 L838.8 341.9 L839.1 340.5 L839.6 339.1 L840.4 337.9 L841.3 336.8 L842.2 335.6 L842.7 334.2 L843.4 332.9 L844.3 331.7 L844.9 330.4 L845.4 329.0 L846.1 327.7 L847.0 326.4 L847.4 325.0 L847.9 323.7 L848.9 322.6 L849.6 321.4 L849.9 320.0 L850.9 318.8 L851.7 317.5 L851.9 316.0 L852.6 314.6 L853.5 313.3 L854.1 311.9 L855.1 310.7 L855.8 309.4 L856.1 307.8 L857.0 306.6 L857.5 305.2 L857.8 303.7 L858.9 302.7 L859.0 301.2 L859.6 299.9 L860.4 298.8 L860.6 297.5 L861.4 296.5 L861.8 295.4 L862.6 294.6 L862.6 293.4 L863.7 291.5 L864.3 289.7 L864.8 288.1 L865.1 286.6 L865.5 285.4 L866.0 284.2 L866.3 283.1 L866.9 282.0 L867.2 280.8 L867.5 279.5 L868.2 278.3 L869.0 277.1 L869.1 275.5 L869.8 274.3 L870.2 272.9 L870.9 271.7 L871.6 270.4 L872.6 269.2 L873.6 268.0 L874.3 266.6 L875.2 265.1 L875.8 263.4 L876.0 262.2 L876.3 260.9 L876.3 259.5 L877.0 258.4 L877.4 257.0 L878.1 255.8 L878.2 254.4 L879.1 253.1 L879.5 251.7 L880.1 250.4 L880.5 249.0 L880.9 247.5 L881.8 246.3 L882.4 244.9 L882.8 243.5 L883.1 242.1 L883.9 240.9 L884.7 239.6 L885.4 238.4 L885.9 237.1 L886.1 235.6 L887.2 234.6 L887.7 233.2 L888.0 231.8 L889.0 230.7 L889.5 229.4 L890.1 228.1 L890.2 226.6 L891.0 225.4 L891.4 224.0 L891.9 222.6 L892.7 221.4 L893.1 220.0 L893.4 218.5 L894.1 217.3 L894.9 216.0 L895.3 214.6 L896.1 213.3 L896.5 211.8 L897.4 210.5 L897.4 208.9 L898.2 207.6 L898.8 206.2 L899.5 204.8 L900.2 203.5 L900.5 202.1 L901.0 200.7 L901.5 199.5 L901.9 198.2 L902.5 197.0 L903.0 196.0 L902.9 194.6 L903.8 193.1 L904.9 191.8 L905.2 190.2 L906.3 189.3 L906.5 188.0 L907.5 187.2 L908.2 186.2 L908.5 184.9 L909.2 183.8 L909.8 182.4 L910.6 181.4 L911.0 180.1 L911.5 178.9 L911.6 177.5 L912.1 176.2 L912.6 174.9 L912.8 173.4 L913.2 172.0 L913.1 170.5 L913.6 169.1 L913.9 167.7 L914.3 166.3 L915.0 165.0 L915.1 163.5 L915.8 162.4 L916.5 161.2 L917.2 160.1 L917.3 158.7 L918.1 157.6 L918.9 156.5 L919.8 155.4 L919.9 153.8 L920.9 152.6 L921.2 150.9 L921.9 149.3 L922.8 147.6 L922.6 146.3 L923.2 145.2 L923.5 143.9 L923.9 142.6 L924.5 141.3 L925.2 140.0 L925.6 138.6 L925.8 137.1 L926.7 135.8 L927.0 134.3 L927.3 132.7 L928.2 131.4 L928.7 129.9 L928.8 128.3 L929.7 127.0 L930.0 125.5 L930.1 124.0 L930.3 122.5 L931.3 121.3 L931.7 120.0 L931.6 118.6 L932.5 117.5 L933.0 115.9 L933.4 114.3 L934.0 112.8 L934.5 111.4 L934.6 109.8 L935.4 108.5 L936.0 107.2 L936.0 105.7 L936.7 104.5 L937.2 103.1 L937.7 101.8 L938.0 100.4 L938.3 99.0 L938.7 97.7 L939.4 96.4 L939.7 94.9 L940.6 93.7 L941.2 92.3 L941.3 90.8 L942.1 89.5 L942.7 88.1 L942.9 86.5 L944.0 85.3 L944.7 84.0 L945.1 82.5 L945.6 81.1 L946.3 79.8 L947.3 78.6 L947.7 77.3 L948.6 76.1 L948.8 74.7 L949.4 73.6 L950.1 72.5 L951.2 71.0 L951.4 69.2 L952.1 67.6 L953.1 66.3 L953.4 64.7 L954.4 63.6 L954.7 62.1 L955.5 60.9 L956.4 59.9 L957.2 58.8 L957.5 57.5 L958.4 55.8 L959.0 54.1 L959.9 52.7 L960.5 51.3 L961.5 50.2 L962.1 48.9 L962.7 47.6 L963.4 45.9 L964.2 44.5 L964.4 42.9 L965.2 41.5 L965.7 39.9 L966.2 38.4 L967.0 36.8 L967.2 34.9 L967.7 33.3 L968.0 31.9 L968.7 31.0" stroke-width="2.2" stroke-dasharray="15.5 7 2.4 5.8 2.4 5.9" stroke-dashoffset="33.1"/>
<path d="M168.1 83.6 L169.0 84.0 L169.3 85.2 L170.2 86.1 L171.1 87.3 L172.2 88.5 L172.8 90.1 L173.8 91.4 L175.3 92.2 L175.6 93.7 L177.0 94.3 L177.8 95.4 L178.8 96.4 L179.6 97.6 L180.4 98.9 L181.4 100.0 L182.6 100.9 L183.8 101.7 L185.0 102.5 L186.2 103.4 L187.0 104.5 L188.2 105.4 L189.4 106.2 L190.4 107.4 L191.9 107.7 L193.2 108.4 L194.6 109.2 L196.1 109.6 L197.3 110.9 L198.7 111.1 L199.9 111.6 L201.3 112.1 L202.7 112.5 L204.0 113.1 L205.4 113.8 L206.8 114.3 L208.1 115.3 L209.6 115.4 L211.1 115.6 L212.5 116.0 L213.7 116.5 L215.0 117.1 L216.5 118.0 L218.1 118.5 L219.9 118.2 L221.4 118.9 L223.0 118.7 L224.5 119.0 L226.0 119.2 L227.5 119.0 L228.8 119.2 L230.0 120.0 L231.7 120.2 L233.2 120.0 L234.6 120.5 L236.0 120.4 L237.3 120.0 L238.7 119.9 L240.1 120.5 L241.4 120.9 L242.9 121.0 L244.3 121.4 L245.5 122.4 L247.0 122.7 L248.3 124.0 L250.0 124.6 L251.2 124.7 L252.4 125.3 L253.7 125.6 L254.9 126.1 L256.2 126.6 L257.4 127.7 L258.9 127.9 L260.3 128.6 L261.9 128.8 L263.3 129.6 L265.0 129.9 L266.2 130.4 L267.6 130.7 L268.9 131.4 L270.4 131.7 L271.6 133.1 L273.1 133.5 L274.6 134.1 L276.0 134.8 L277.6 135.0 L278.9 135.9 L280.3 136.5 L281.3 137.6 L282.8 137.4 L283.8 138.2 L284.8 138.9 L286.8 139.2 L288.4 139.2 L289.7 138.6 L290.9 138.3 L292.1 138.6 L293.4 138.2 L295.0 138.9 L296.2 138.9 L297.4 139.7 L298.8 140.1 L300.1 140.9 L301.5 141.7 L303.1 142.0 L304.3 143.2 L306.1 143.1 L307.1 144.5 L308.8 144.4 L309.9 145.3 L311.4 145.6 L312.8 146.4 L314.3 146.3 L315.7 146.5 L317.0 147.3 L318.4 147.3 L319.7 147.7 L321.1 147.7 L322.6 147.6 L323.8 148.6 L325.4 148.6 L326.7 149.4 L328.3 149.5 L329.6 150.2 L330.9 151.1 L332.2 151.8 L333.7 152.2 L335.1 152.7 L336.4 153.6 L337.8 154.3 L339.3 154.7 L340.5 155.6 L341.9 156.4 L343.2 157.1 L344.8 157.3 L346.1 158.0 L347.5 158.5 L348.9 158.8 L350.3 159.4 L351.6 160.0 L353.0 160.2 L354.4 160.2 L355.7 161.0 L357.2 160.8 L358.5 161.7 L360.0 161.5 L361.4 161.8 L362.8 162.3 L364.1 162.9 L365.6 163.1 L366.8 164.1 L368.1 164.7 L369.8 164.7 L371.0 165.7 L372.5 166.3 L373.7 166.9 L375.0 167.5 L375.7 168.9 L376.9 169.8 L378.5 170.2 L379.4 171.4 L380.6 172.5 L381.8 173.4 L382.8 174.5 L383.7 175.7 L385.3 175.8 L386.2 177.3 L387.7 177.7 L389.1 178.2 L389.9 179.7 L391.4 179.9 L392.7 180.6 L394.0 181.3 L395.1 182.2 L396.4 182.7 L397.7 183.5 L399.0 184.2 L400.3 185.2 L401.7 185.7 L403.1 186.2 L404.4 186.9 L405.7 187.8 L407.1 188.5 L408.6 189.1 L409.6 190.5 L410.7 191.2 L411.9 191.9 L413.0 192.8 L414.1 193.7 L415.3 194.6 L415.9 196.1 L417.2 197.0 L418.5 197.7 L419.1 199.2 L420.1 200.1 L421.6 200.4 L422.2 201.7 L423.8 202.3 L425.0 203.4 L426.2 204.4 L427.8 204.6 L429.0 205.3 L430.1 206.1 L431.5 206.4 L432.4 207.6 L433.6 208.4 L434.1 209.8 L435.5 210.3 L435.9 211.7 L437.2 212.5 L437.9 213.8 L439.0 214.8 L440.1 216.0 L440.8 217.1 L442.0 217.8 L442.6 219.2 L444.0 219.9 L444.5 221.3 L445.2 222.7 L446.6 223.5 L447.3 224.8 L447.8 226.4 L448.9 227.3 L449.6 228.7 L451.0 229.5 L452.1 230.7 L452.8 232.2 L454.3 233.0 L454.9 234.5 L456.0 235.6 L457.4 236.3 L458.1 237.6 L458.8 238.8 L460.1 239.2 L461.1 240.9 L462.4 241.8 L463.7 242.6 L464.9 243.1 L466.3 243.4 L467.0 244.6 L469.0 244.8 L470.1 246.2 L471.6 246.9 L473.2 247.3 L474.4 248.2 L476.0 248.6 L477.4 249.4 L479.0 249.2 L479.9 250.3 L481.9 250.7 L483.1 251.9 L484.3 251.9 L485.8 251.4 L487.0 249.9 L488.8 249.5 L490.6 249.4 L491.6 251.6 L492.8 253.0 L494.7 252.3" stroke-width="1.6"/>
</g>
<g font-family="'Liberation Serif', serif" fill="#000" opacity="0.999" text-rendering="geometricPrecision">
<text transform="matrix(0.3459 0 0 0.3680 63.89 582.10)" font-size="100" stroke="#fff" stroke-width="0.70">0</text>
<text transform="matrix(0.3459 0 0 0.3680 64.58 527.65)" font-size="100" stroke="#fff" stroke-width="0.70">1</text>
<text transform="matrix(0.3459 0 0 0.3680 64.41 473.20)" font-size="100" stroke="#fff" stroke-width="0.70">2</text>
<text transform="matrix(0.3459 0 0 0.3680 63.89 418.75)" font-size="100" stroke="#fff" stroke-width="0.70">3</text>
<text transform="matrix(0.3459 0 0 0.3680 63.02 364.30)" font-size="100" stroke="#fff" stroke-width="0.70">4</text>
<text transform="matrix(0.3459 0 0 0.3680 63.89 309.85)" font-size="100" stroke="#fff" stroke-width="0.70">5</text>
<text transform="matrix(0.3459 0 0 0.3680 63.54 255.40)" font-size="100" stroke="#fff" stroke-width="0.70">6</text>
<text transform="matrix(0.3459 0 0 0.3680 63.54 200.95)" font-size="100" stroke="#fff" stroke-width="0.70">7</text>
<text transform="matrix(0.3459 0 0 0.3680 63.89 146.50)" font-size="100" stroke="#fff" stroke-width="0.70">8</text>
<text transform="matrix(0.3459 0 0 0.3680 63.89 92.05)" font-size="100" stroke="#fff" stroke-width="0.70">9</text>
<text transform="matrix(0.3113 0 0 0.3680 49.91 37.60)" font-size="100" stroke="#fff" stroke-width="0.70">10</text>
<text transform="matrix(0.3450 0 0 0.3720 72.09 616.30)" font-size="100" stroke="#fff" stroke-width="0.70">200</text>
<text transform="matrix(0.3450 0 0 0.3720 197.77 616.30)" font-size="100" stroke="#fff" stroke-width="0.70">250</text>
<text transform="matrix(0.3450 0 0 0.3720 323.37 616.30)" font-size="100" stroke="#fff" stroke-width="0.70">300</text>
<text transform="matrix(0.3450 0 0 0.3720 449.06 616.30)" font-size="100" stroke="#fff" stroke-width="0.70">350</text>
<text transform="matrix(0.3450 0 0 0.3720 575.26 616.30)" font-size="100" stroke="#fff" stroke-width="0.70">400</text>
<text transform="matrix(0.3450 0 0 0.3720 700.94 616.30)" font-size="100" stroke="#fff" stroke-width="0.70">450</text>
<text transform="matrix(0.3450 0 0 0.3720 825.94 616.30)" font-size="100" stroke="#fff" stroke-width="0.70">500</text>
<text transform="matrix(0.3450 0 0 0.3720 951.62 616.30)" font-size="100" stroke="#fff" stroke-width="0.70">550</text>
<text transform="matrix(0.2160 0 0 0.2150 136.36 254.40)" font-size="100" stroke="#fff" stroke-width="0.90">0</text>
<text transform="matrix(0.2160 0 0 0.2150 120.16 213.36)" font-size="100" stroke="#fff" stroke-width="0.90">0.5</text>
<text transform="matrix(0.2160 0 0 0.2150 136.80 172.32)" font-size="100" stroke="#fff" stroke-width="0.90">1</text>
<text transform="matrix(0.2160 0 0 0.2150 120.16 131.28)" font-size="100" stroke="#fff" stroke-width="0.90">1.5</text>
<text transform="matrix(0.2160 0 0 0.2150 136.69 90.24)" font-size="100" stroke="#fff" stroke-width="0.90">2</text>
<text transform="matrix(0.2160 0 0 0.2150 120.16 49.20)" font-size="100" stroke="#fff" stroke-width="0.90">2.5</text>
<text transform="matrix(0.2220 0 0 0.2160 151.15 277.60)" font-size="100" stroke="#fff" stroke-width="0.90">0</text>
<text transform="matrix(0.2220 0 0 0.2160 199.03 277.60)" font-size="100" stroke="#fff" stroke-width="0.90">100</text>
<text transform="matrix(0.2220 0 0 0.2160 259.05 277.60)" font-size="100" stroke="#fff" stroke-width="0.90">200</text>
<text transform="matrix(0.2220 0 0 0.2160 318.53 277.60)" font-size="100" stroke="#fff" stroke-width="0.90">300</text>
<text transform="matrix(0.2220 0 0 0.2160 378.39 277.60)" font-size="100" stroke="#fff" stroke-width="0.90">400</text>
<text transform="matrix(0.2220 0 0 0.2160 437.48 277.60)" font-size="100" stroke="#fff" stroke-width="0.90">500</text>
<text transform="matrix(0.2220 0 0 0.2160 497.17 277.60)" font-size="100" stroke="#fff" stroke-width="0.90">600</text>
<text transform="matrix(0 -0.4115 0.3980 0 46.10 551.42)" font-size="100"><tspan font-style="italic">J</tspan>, намагниченность, отн. ед.</text>
<text transform="matrix(0.4236 0 0 0.4154 475.65 676.90)" font-size="100"><tspan font-style="italic">T</tspan></text>
<text transform="matrix(0.2867 0 0 0.2590 507.47 667.12)" font-size="100">°</text>
<text transform="matrix(0.4246 0 0 0.4209 519.40 677.48)" font-size="100">C</text>
<text transform="matrix(0.2745 0 0 0.2708 370.42 300.00)" font-size="100"><tspan font-style="italic">T</tspan></text>
<text transform="matrix(0.1767 0 0 0.1639 389.92 293.60)" font-size="100">°</text>
<text transform="matrix(0.2825 0 0 0.2731 397.77 300.03)" font-size="100">C</text>
<text transform="matrix(0.4069 0 0 0.4211 858.57 94.96)" font-size="100">(а)</text>
<text transform="matrix(0.4221 0 0 0.4097 456.70 95.20)" font-size="100">(б)</text>
<text transform="matrix(0.2862 0 0 0.2687 544.44 339.03)" font-size="100">Fe/S</text>
<text transform="matrix(0.2683 0 0 0.2618 519.50 410.71)" font-size="100">Fe &amp;1%In/S</text>
<text transform="matrix(0.2729 0 0 0.2588 529.08 485.31)" font-size="100">Fe &amp;5%In/S</text>
<text transform="matrix(0.4004 0 0 0.3842 848.04 268.89)" font-size="100" stroke="#000" stroke-width="1.20"><tspan font-style="italic">3</tspan></text>
<text transform="matrix(0.3984 0 0 0.3869 909.24 230.37)" font-size="100" stroke="#000" stroke-width="1.20"><tspan font-style="italic">2</tspan></text>
<text transform="matrix(0.4142 0 0 0.3914 938.50 277.77)" font-size="100" stroke="#000" stroke-width="1.20"><tspan font-style="italic">1</tspan></text>
<text transform="matrix(0.3949 0 0 0.3592 166.63 65.53)" font-size="100" stroke="#000" stroke-width="0.60"><tspan font-style="italic">J</tspan></text>
<text transform="matrix(0.3768 0 0 0.3652 480.04 236.02)" font-size="100" stroke="#000" stroke-width="1.00"><tspan font-style="italic">T</tspan></text>
<text transform="matrix(0.3103 0 0 0.2521 498.70 242.55)" font-size="100">θ</text>
</g>
</svg>
</body></html>
